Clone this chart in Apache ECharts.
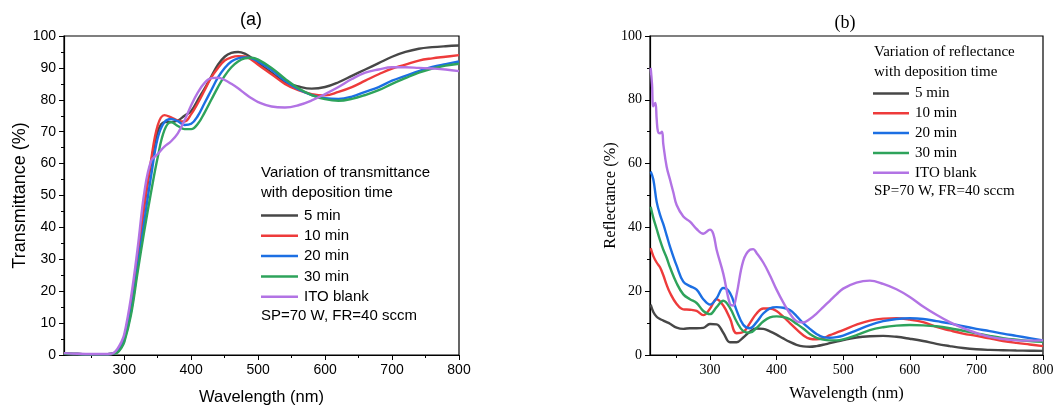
<!DOCTYPE html>
<html>
<head>
<meta charset="utf-8">
<script src="https://cdn.jsdelivr.net/npm/echarts@6/dist/echarts.min.js"></script>
<style>
  html, body { margin: 0; padding: 0; background: #fff; }
  #main { width: 1056px; height: 408px; }
</style>
</head>
<body>
<div id="main"></div>
<script>
// series names and colours
const names = ["5 min", "10 min", "20 min", "30 min", "ITO blank"];
const colors = ["#474747", "#ee3b3b", "#1c6fe3", "#2ea35b", "#b273e4"];

// tick labels
const xLabels = [300, 400, 500, 600, 700, 800];
const xMinor = [250, 350, 450, 550, 650, 750];

// (a) transmittance
const transWl = [210, 230, 250, 270, 280, 285, 290, 295, 300, 310, 320, 330, 340, 350, 360, 370, 380, 390, 400, 410, 420, 430, 440, 450, 460, 470, 480, 490, 500, 520, 540, 560, 580, 600, 620, 640, 660, 680, 700, 720, 740, 760, 780, 800];
const trans5 = [0.4, 0.3, 0.2, 0.2, 0.3, 0.6, 1.5, 3, 5.5, 16, 31, 47, 60, 70, 73, 73, 73.5, 75, 76.5, 80, 83.5, 87.3, 91, 93.5, 94.7, 95, 94.5, 93.2, 91.5, 88.5, 85.5, 84.2, 83.5, 84, 85.5, 87.5, 89.5, 91.5, 93.5, 95, 96, 96.5, 96.8, 97];
const trans10 = [0.4, 0.3, 0.2, 0.2, 0.3, 0.6, 1.3, 3, 5.5, 16, 31, 47, 61, 72, 75.2, 74.5, 73.5, 73.2, 75.5, 79, 83, 87, 90, 92.3, 93.3, 93.7, 93.6, 92.6, 91, 88, 85, 83, 81.8, 81.4, 82.5, 84, 86, 88, 89.8, 91, 92.3, 93, 93.5, 94];
const trans20 = [0.4, 0.3, 0.2, 0.2, 0.3, 0.5, 1.0, 2.3, 4.5, 13.5, 27.5, 42, 56, 68, 73, 74, 73.3, 72.1, 72.5, 75, 79, 83, 87, 90, 92, 93, 93.3, 93, 92, 89.3, 86, 83.3, 81.5, 80.5, 80.3, 81, 82.5, 84, 86, 87.5, 89, 90.3, 91.2, 92];
const trans30 = [0.4, 0.3, 0.2, 0.2, 0.3, 0.5, 0.8, 2, 4, 12.5, 26, 39, 51, 62, 70.5, 73, 71.8, 70.8, 70.8, 72.5, 76, 80, 84, 87.5, 90.2, 92, 93, 93.2, 92.6, 90, 86.6, 83.6, 81.5, 80.2, 79.7, 80.3, 81.5, 83, 85, 86.8, 88.5, 89.8, 90.7, 91.3];
const transIto = [0.6, 0.4, 0.3, 0.3, 0.4, 0.8, 2, 3.8, 6.5, 18, 33.5, 51, 60.8, 63, 65.3, 67, 69.5, 73.5, 78.3, 82.3, 85.3, 86.8, 86.9, 86.2, 85, 83.6, 82, 80.5, 79.3, 77.9, 77.6, 78.3, 79.8, 81.8, 84, 86.5, 88.5, 89.5, 90.2, 90.2, 90, 89.8, 89.5, 89];

// (b) reflectance
const reflWl = [211, 215, 220, 225, 230, 235, 240, 250, 260, 270, 280, 290, 300, 310, 320, 330, 340, 350, 360, 370, 380, 390, 400, 410, 420, 430, 440, 450, 460, 470, 480, 490, 500, 520, 540, 560, 580, 600, 620, 640, 660, 680, 700, 720, 740, 760, 780, 800];
const refl5 = [15.8, 13.5, 12, 11.3, 10.8, 10.3, 9.8, 8.6, 8.2, 8.4, 8.4, 8.5, 9.7, 9.6, 7, 4, 4, 5.5, 7.3, 8.3, 8.2, 7.4, 6.4, 5.2, 4.1, 3.2, 2.7, 2.6, 2.8, 3.2, 3.7, 4.2, 4.7, 5.5, 5.9, 6, 5.7, 5.1, 4.4, 3.5, 2.8, 2.2, 1.8, 1.6, 1.5, 1.4, 1.35, 1.3];
const refl10 = [33.5, 31, 29, 27.5, 25, 22, 19.5, 16, 14.3, 14.2, 13.8, 12.5, 14.5, 17.5, 15.5, 11.5, 6.8, 7.2, 10, 13, 14.6, 14.6, 13.8, 12, 10, 8, 6.2, 5.1, 4.9, 5.3, 6.2, 7, 7.8, 9.5, 10.8, 11.4, 11.5, 11.1, 10.3, 8.8, 7.7, 6.7, 6, 5.2, 4.4, 3.8, 3.3, 2.8];
const refl20 = [57.5, 55, 48, 44, 41, 37.5, 34, 28, 23, 21.6, 20.5, 17.5, 15.8, 17.8, 21, 19.5, 14, 9.5, 8.4, 10.3, 13, 14.6, 15, 14.8, 14.1, 12.2, 10, 8.2, 6.6, 5.6, 5.4, 5.6, 6.1, 7.7, 9.4, 10.6, 11.3, 11.5, 11.3, 10.6, 9.9, 9, 8.2, 7.5, 6.7, 6, 5.3, 4.6];
const refl30 = [46.5, 43, 39.5, 36, 33, 30.5, 27.5, 22.5, 19, 17.5, 16.3, 13.8, 12.8, 15, 17, 14.8, 10.5, 7.5, 7, 8.5, 10.5, 11.8, 12.1, 11.9, 11.2, 9.8, 8.3, 6.6, 5.4, 4.8, 4.6, 4.6, 4.9, 6.2, 7.8, 8.7, 9.2, 9.4, 9.3, 9, 8.4, 7.6, 6.8, 6, 5.3, 4.8, 4.4, 4.1];
const itoWl = [211, 213, 215, 218, 220, 222, 225, 228, 230, 235, 240, 245, 250, 260, 270, 280, 290, 300, 305, 310, 320, 330, 335, 340, 350, 360, 365, 370, 380, 390, 400, 410, 420, 430, 440, 450, 460, 470, 480, 490, 500, 520, 540, 560, 580, 600, 620, 640, 660, 680, 700, 720, 740, 760, 780, 800];
const reflIto = [90, 85, 78, 79, 74, 70, 69.5, 70, 66, 59, 55, 51, 47, 43.4, 41.8, 39.5, 38, 39.3, 38, 33, 25.5, 16, 15.5, 19, 29.5, 33, 33.2, 32, 29, 25, 20.5, 16.5, 13, 10.6, 10.2, 11.3, 13, 15, 17, 19, 20.8, 22.7, 23.3, 22.3, 20.6, 18.2, 15.2, 12.6, 10.3, 8.4, 6.9, 5.7, 5, 4.6, 4.5, 4.6];

function pairs(xs, ys) {
  return xs.map((x, i) => [x, ys[i]]);
}

const sans = "Liberation Sans";
const serif = "Liberation Serif";

function xAxes(grid, font, nameGap) {
  return [
    {
      type: "value", gridIndex: grid, min: 210, max: 800, position: "bottom",
      name: "Wavelength (nm)", nameLocation: "middle", nameGap: nameGap, nameMoveOverlap: false,
      nameTextStyle: { fontFamily: font, fontSize: 16.5, color: "#000" },
      axisLine: { lineStyle: { color: "#000", width: 1.2 } },
      axisTick: { customValues: xLabels, length: 5, lineStyle: { color: "#000" } },
      axisLabel: { customValues: xLabels, margin: 8, fontFamily: font, fontSize: 14, color: "#000" },
      splitLine: { show: false },
    },
    {
      type: "value", gridIndex: grid, min: 210, max: 800, position: "bottom",
      axisLine: { show: false },
      axisTick: { customValues: xMinor, length: 3, lineStyle: { color: "#000" } },
      axisLabel: { show: false },
      splitLine: { show: false },
    },
  ];
}

function yAxis(grid, font, step, name, nameGap) {
  return {
    type: "value", gridIndex: grid, min: 0, max: 100, interval: step,
    name: name, nameLocation: "middle", nameGap: nameGap, nameMoveOverlap: false,
    nameTextStyle: { fontFamily: font, fontSize: grid === 0 ? 18 : 16.5, color: "#000" },
    axisLine: { show: true, lineStyle: { color: "#000", width: 1.2 } },
    axisTick: { show: true, length: 5, lineStyle: { color: "#000" } },
    minorTick: { show: true, splitNumber: 2, length: 3, lineStyle: { color: "#000" } },
    axisLabel: { margin: 8, fontFamily: font, fontSize: 14, color: "#000" },
    splitLine: { show: false },
  };
}

function line(name, color, data, xi, yi) {
  return {
    name: name, type: "line", data: data, xAxisIndex: xi, yAxisIndex: yi,
    symbol: "none", smooth: 0.4, silent: true,
    lineStyle: { color: color, width: 2.4 },
    itemStyle: { color: color },
  };
}

function text(x, y, str, font, size, align) {
  return {
    type: "text", x: x, y: y, silent: true,
    style: { text: str, fontFamily: font, fontSize: size, fill: "#000", align: align || "left", verticalAlign: "middle" },
  };
}

function legend(left, top, width, gap, font) {
  return {
    data: names, orient: "vertical", left: left, top: top, padding: 0,
    icon: "rect", itemWidth: width, itemHeight: 2.5, itemGap: gap,
    selectedMode: false, textStyle: { fontFamily: font, fontSize: 15, color: "#000", padding: [0, 0, 0, 1] },
  };
}

const chart = echarts.init(document.getElementById("main"), null, { renderer: "canvas" });

const transSets = [trans5, trans10, trans20, trans30, transIto];
const reflData = [
  pairs(reflWl, refl5), pairs(reflWl, refl10), pairs(reflWl, refl20),
  pairs(reflWl, refl30), pairs(itoWl, reflIto),
];

const series = [];
names.forEach((n, i) => series.push(line(n, colors[i], pairs(transWl, transSets[i]), 0, 0)));
names.forEach((n, i) => series.push(line(n, colors[i], reflData[i], 2, 1)));

chart.setOption({
  animation: false,
  grid: [
    { left: 64, top: 36, width: 395, height: 319, outerBoundsMode: "none", show: true, borderColor: "#000", borderWidth: 1.2 },
    { left: 650, top: 36, width: 393, height: 319, outerBoundsMode: "none", show: true, borderColor: "#000", borderWidth: 1.2 },
  ],
  xAxis: [...xAxes(0, sans, 34), ...xAxes(1, serif, 30)],
  yAxis: [
    yAxis(0, sans, 10, "Transmittance (%)", 35),
    yAxis(1, serif, 20, "Reflectance (%)", 31),
  ],
  legend: [
    legend(261, 208, 37, 5.3, sans),
    legend(873, 86, 36, 4.8, serif),
  ],
  graphic: [
    text(251, 20, "(a)", sans, 18, "center"),
    text(845, 23, "(b)", serif, 18, "center"),
    text(261, 173, "Variation of transmittance", sans, 15),
    text(261, 193, "with deposition time", sans, 15),
    text(261, 316, "SP=70 W, FR=40 sccm", sans, 15),
    text(874, 52, "Variation of reflectance", serif, 15),
    text(874, 72, "with deposition time", serif, 15),
    text(874, 191, "SP=70 W, FR=40 sccm", serif, 15),
  ],
  series: series,
});
</script>
</body>
</html>
